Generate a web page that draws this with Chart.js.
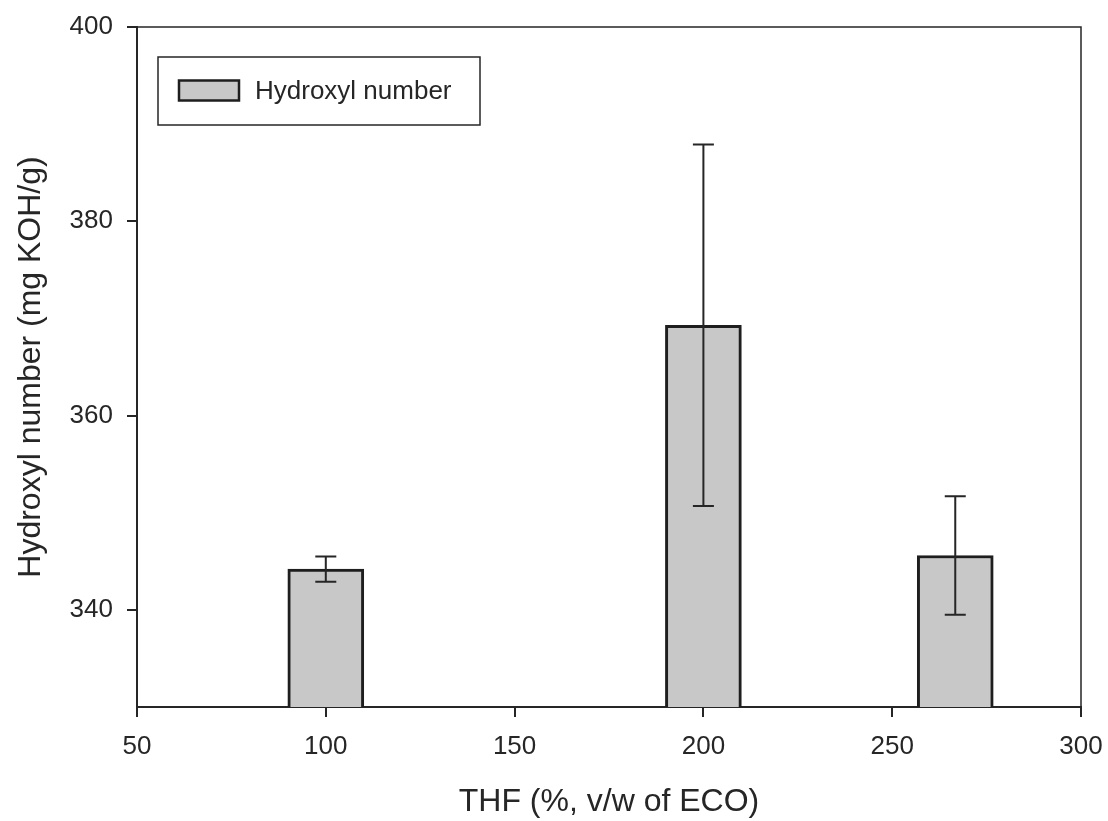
<!DOCTYPE html>
<html>
<head>
<meta charset="utf-8">
<script src="https://cdn.jsdelivr.net/npm/chart.js@4/dist/chart.umd.min.js"></script>
<style>
  html, body { margin: 0; padding: 0; background: #fff; }
  #wrap { width: 1108px; height: 821px; }
</style>
</head>
<body>
<div id="wrap"><canvas id="c" width="1108" height="821"></canvas></div>
<script>
// THF loading (%, v/w of ECO)
const thfLevels = [100, 200, 266.7];
// Hydroxyl number (mg KOH/g) and its standard deviation
const hydroxylValues = [344.2, 369.3, 345.6];
const hydroxylErrors = [1.3, 18.6, 6.1];
// Axis ticks
const xTicks = [50, 100, 150, 200, 250, 300];
const yTicks = [340, 360, 380, 400];

const INK = '#262626';
const FONT = "'Liberation Sans', Arial, Helvetica, sans-serif";

// Error bars drawn through the y scale
const errorBars = {
  id: 'errorBars',
  afterDatasetsDraw(chart) {
    const { ctx, scales: { x, y } } = chart;
    ctx.save();
    ctx.strokeStyle = INK;
    ctx.lineWidth = 2;
    thfLevels.forEach((t, i) => {
      const px = x.getPixelForValue(t);
      const top = y.getPixelForValue(hydroxylValues[i] + hydroxylErrors[i]);
      const bot = y.getPixelForValue(hydroxylValues[i] - hydroxylErrors[i]);
      const cap = 10.5;
      ctx.beginPath();
      ctx.moveTo(px, top); ctx.lineTo(px, bot);
      ctx.moveTo(px - cap, top); ctx.lineTo(px + cap, top);
      ctx.moveTo(px - cap, bot); ctx.lineTo(px + cap, bot);
      ctx.stroke();
    });
    ctx.restore();
  }
};

// Closed frame around the plotting area
const frame = {
  id: 'frame',
  afterDatasetsDraw(chart) {
    const { ctx, chartArea: a } = chart;
    ctx.save();
    ctx.strokeStyle = INK;
    ctx.lineWidth = 1.5;
    ctx.beginPath();
    ctx.moveTo(a.left, a.top); ctx.lineTo(a.right, a.top); ctx.lineTo(a.right, a.bottom);
    ctx.stroke();
    ctx.restore();
  }
};

// Boxed legend in the upper-left corner of the plot
const boxedLegend = {
  id: 'boxedLegend',
  afterDraw(chart) {
    const { ctx, chartArea: a } = chart;
    const ds = chart.data.datasets[0];
    const bx = a.left + 21, by = a.top + 30, bw = 322, bh = 68;
    ctx.save();
    ctx.fillStyle = '#fff';
    ctx.fillRect(bx, by, bw, bh);
    ctx.strokeStyle = INK;
    ctx.lineWidth = 1.5;
    ctx.strokeRect(bx, by, bw, bh);
    const sx = bx + 21, sy = by + 23.5, sw = 60, sh = 20;
    ctx.fillStyle = ds.backgroundColor;
    ctx.fillRect(sx, sy, sw, sh);
    ctx.lineWidth = 2.5;
    ctx.strokeStyle = ds.borderColor;
    ctx.strokeRect(sx, sy, sw, sh);
    ctx.fillStyle = INK;
    ctx.font = '26px ' + FONT;
    ctx.textBaseline = 'middle';
    ctx.textAlign = 'left';
    ctx.fillText(ds.label, bx + 97, sy + sh / 2 + 1);
    ctx.restore();
  }
};

new Chart(document.getElementById('c'), {
  type: 'bar',
  data: {
    datasets: [{
      label: 'Hydroxyl number',
      data: thfLevels.map((t, i) => ({ x: t, y: hydroxylValues[i] })),
      backgroundColor: '#c8c8c8',
      borderColor: '#1e1e1e',
      borderWidth: 3,
      barThickness: 76
    }]
  },
  options: {
    responsive: false,
    animation: false,
    layout: { padding: { top: 27, right: 27, left: 0, bottom: 0 } },
    plugins: {
      legend: { display: false },
      tooltip: { enabled: false }
    },
    scales: {
      x: {
        type: 'linear',
        min: 50, max: 300,
        offset: false,
        afterBuildTicks: s => { s.ticks = xTicks.map(v => ({ value: v })); },
        afterFit: s => { s.height = 114; s.paddingLeft = 0; s.paddingRight = 0; },
        border: { color: INK, width: 2 },
        grid: { offset: false, drawOnChartArea: false, drawTicks: true, tickLength: 10, color: INK, lineWidth: 2 },
        ticks: { color: INK, padding: 14, maxRotation: 0, font: { family: FONT, size: 26 } },
        title: {
          display: true, text: 'THF (%, v/w of ECO)', color: INK,
          font: { family: FONT, size: 32 }, padding: { top: 0, bottom: 0 }
        }
      },
      y: {
        min: 330, max: 400,
        afterBuildTicks: s => { s.ticks = yTicks.map(v => ({ value: v })); },
        afterFit: s => { s.width = 137; s.paddingTop = 0; s.paddingBottom = 0; },
        border: { color: INK, width: 2 },
        grid: { drawOnChartArea: false, drawTicks: true, tickLength: 10, color: INK, lineWidth: 2 },
        ticks: { color: INK, padding: 14, font: { family: FONT, size: 26 } },
        title: {
          display: true, text: 'Hydroxyl number (mg KOH/g)', color: INK,
          font: { family: FONT, size: 32 }, padding: { top: 12, bottom: 0 }
        }
      }
    }
  },
  plugins: [frame, errorBars, boxedLegend]
});
</script>
</body>
</html>
